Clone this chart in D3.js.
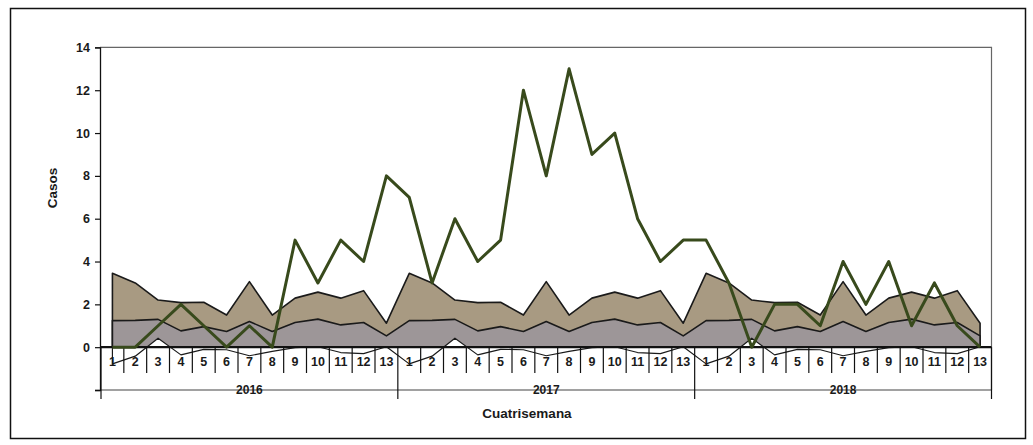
<!DOCTYPE html>
<html>
<head>
<meta charset="utf-8">
<script src="https://cdn.jsdelivr.net/npm/d3@7/dist/d3.min.js"></script>
<style>
  html, body { margin: 0; padding: 0; background: #fff; }
  svg { display: block; }
  text { font-family: "Liberation Sans", Arial, sans-serif; font-weight: bold; fill: #1a1a1a; }
</style>
</head>
<body>
<svg id="chart" width="1033" height="445"></svg>
<script>
// ---- data ----
const years = ["2016", "2017", "2018"];
const cuatrisemanas = ["1","2","3","4","5","6","7","8","9","10","11","12","13",
                       "1","2","3","4","5","6","7","8","9","10","11","12","13",
                       "1","2","3","4","5","6","7","8","9","10","11","12","13"];
// observed cases
const casos = [0,0,1,2,1,0,1,0,5,3,5,4,8,
               7,3,6,4,5,12,8,13,9,10,6,4,5,
               5,3,0,2,2,1,4,2,4,1,3,1,0];
// endemic channel: upper limit
const limiteSuperior = [3.45,3.0,2.2,2.08,2.1,1.5,3.06,1.5,2.29,2.57,2.29,2.64,1.12,
                        3.45,3.0,2.2,2.08,2.1,1.5,3.06,1.5,2.29,2.57,2.29,2.64,1.12,
                        3.45,3.0,2.2,2.08,2.1,1.5,3.06,1.5,2.29,2.57,2.29,2.64,1.12];
// median
const mediana = [1.24,1.25,1.3,0.76,0.96,0.73,1.2,0.73,1.15,1.31,1.04,1.15,0.53,
                 1.24,1.25,1.3,0.76,0.96,0.73,1.2,0.73,1.15,1.31,1.04,1.15,0.53,
                 1.24,1.25,1.3,0.76,0.96,0.73,1.2,0.73,1.15,1.31,1.04,1.15,0.53];
// lower limit
const limiteInferior = [-0.78,-0.42,0.42,-0.36,-0.1,-0.12,-0.4,-0.2,-0.02,0.02,-0.25,-0.3,0.02,
                        -0.78,-0.42,0.42,-0.36,-0.1,-0.12,-0.4,-0.2,-0.02,0.02,-0.25,-0.3,0.02,
                        -0.78,-0.42,0.42,-0.36,-0.1,-0.12,-0.4,-0.2,-0.02,0.02,-0.25,-0.3,0.02];
const yTicks = [-2,0,2,4,6,8,10,12,14];

// ---- layout ----
const svg = d3.select("#chart");
const pLeft = 101, pRight = 991.5, pTop = 47.4, pBottom = 390;

const idx = d3.range(casos.length);
const x = d3.scaleBand().domain(idx).range([pLeft, pRight]).padding(0);
const cx = i => x(i) + x.bandwidth() / 2;
const y = d3.scaleLinear().domain([-2, 14]).range([pBottom, pTop]);

// outer frame
svg.append("rect").attr("x", 10.5).attr("y", 8.5).attr("width", 1015).attr("height", 430)
  .attr("fill", "#fff").attr("stroke", "#111").attr("stroke-width", 1.5);

// plot frame (top/right)
svg.append("path")
  .attr("d", `M${pLeft - 1},${pTop}H${pRight}V${pBottom}`)
  .attr("fill", "none").attr("stroke", "#666").attr("stroke-width", 1.2);
svg.append("line").attr("x1", pLeft - 1).attr("x2", pRight).attr("y1", pBottom).attr("y2", pBottom)
  .attr("stroke", "#444").attr("stroke-width", 1.2);

// areas (non-stacked, each from 0)
function areaPath(vals) {
  const a = d3.area().x((d, i) => cx(i)).y0(y(0)).y1(d => y(d));
  return a(vals) + "Z";
}
svg.append("path").attr("d", areaPath(limiteSuperior))
  .attr("fill", "#a89a82").attr("stroke", "#1a1a1a").attr("stroke-width", 1.6).attr("stroke-linejoin", "round");
svg.append("path").attr("d", areaPath(mediana))
  .attr("fill", "#9d9698").attr("stroke", "#1a1a1a").attr("stroke-width", 1.6).attr("stroke-linejoin", "round");
svg.append("path").attr("d", areaPath(limiteInferior))
  .attr("fill", "#fff").attr("stroke", "#1a1a1a").attr("stroke-width", 1.2).attr("stroke-linejoin", "round");

// y axis
const yAxis = d3.axisLeft(y).tickValues(yTicks).tickSize(5).tickPadding(5)
  .tickFormat(d => d < 0 ? "" : d);
const gy = svg.append("g").attr("transform", `translate(${pLeft - 1},0)`).call(yAxis);
gy.select(".domain").attr("stroke", "#111").attr("stroke-width", 1.3);
gy.selectAll(".tick line").attr("stroke", "#111").attr("stroke-width", 1.2);
gy.selectAll(".tick text").attr("font-size", 12.5).attr("fill", "#1a1a1a")
  .style("font-family", "'Liberation Sans', Arial, sans-serif").style("font-weight", "bold");

// category axis at y=0
const y0 = y(0);
svg.append("line").attr("x1", pLeft - 1).attr("x2", pRight).attr("y1", y0).attr("y2", y0)
  .attr("stroke", "#111").attr("stroke-width", 2.2);

// tick separators
const gx = svg.append("g");
d3.range(0, casos.length + 1).forEach(i => {
  const xx = i < casos.length ? x(i) : pRight;
  const isYear = i % 13 === 0;
  gx.append("line").attr("x1", xx).attr("x2", xx)
    .attr("y1", y0).attr("y2", isYear ? 399 : 373)
    .attr("stroke", "#111").attr("stroke-width", 1.2);
});
// category labels
gx.selectAll("text.cat").data(cuatrisemanas).join("text")
  .attr("class", "cat")
  .attr("x", (d, i) => cx(i)).attr("y", 366)
  .attr("text-anchor", "middle").attr("font-size", 12.5)
  .text(d => d);
// year labels
years.forEach((yr, k) => {
  const xm = (x(k * 13) + x(k * 13 + 12) + x.bandwidth()) / 2;
  svg.append("text").attr("x", xm).attr("y", 394)
    .attr("text-anchor", "middle").attr("font-size", 12).text(yr);
});

// cases line
svg.append("path")
  .attr("d", d3.line().x((d, i) => cx(i)).y(d => y(d))(casos))
  .attr("fill", "none").attr("stroke", "#384a1c").attr("stroke-width", 3)
  .attr("stroke-linejoin", "round");

// axis titles
svg.append("text").attr("x", 527).attr("y", 418).attr("text-anchor", "middle")
  .attr("font-size", 13.5).text("Cuatrisemana");
svg.append("text").attr("transform", "translate(57,188) rotate(-90)")
  .attr("text-anchor", "middle").attr("font-size", 13.5).text("Casos");
</script>
</body>
</html>
